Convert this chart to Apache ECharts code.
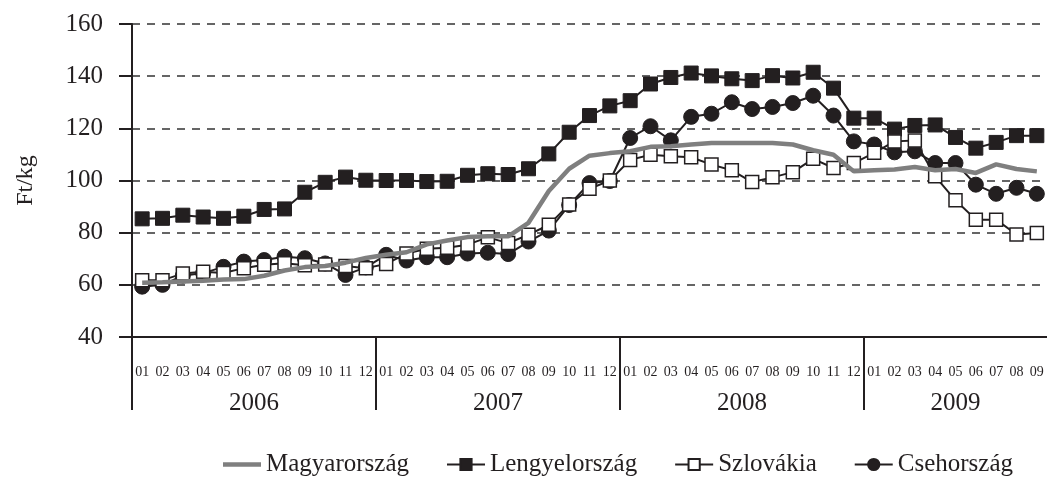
<!DOCTYPE html>
<html>
<head>
<meta charset="utf-8">
<script src="https://cdn.jsdelivr.net/npm/echarts@6/dist/echarts.min.js"></script>
<style>
  html, body { margin: 0; padding: 0; background: #fff; }
  #chart { width: 1047px; height: 477px; }
</style>
</head>
<body>
<div id="chart"></div>
<script>
// month tick labels, 2006-01 .. 2009-09
const months = [
  '01','02','03','04','05','06','07','08','09','10','11','12',
  '01','02','03','04','05','06','07','08','09','10','11','12',
  '01','02','03','04','05','06','07','08','09','10','11','12',
  '01','02','03','04','05','06','07','08','09'
];
const years = ['2006', '2007', '2008', '2009'];
const monthsPerYear = [12, 12, 12, 9];

const magyar = [
  60.8, 61.0, 61.3, 61.6, 62.0, 62.2, 63.5, 65.5, 66.8, 67.2, 68.5, 70.3,
  71.5, 72.5, 75.5, 77.0, 78.3, 78.6, 78.6, 83.8, 96.0, 104.5, 109.5, 110.5,
  111.2, 112.9, 113.1, 113.8, 114.4, 114.4, 114.4, 114.4, 113.8, 111.6, 109.9, 103.5,
  103.9, 104.2, 105.2, 103.9, 104.4, 102.9, 106.2, 104.4, 103.5
];
const lengyel = [
  85.3, 85.5, 86.7, 86.0, 85.5, 86.3, 88.9, 89.1, 95.5, 99.3, 101.3, 100.1,
  100.0, 100.0, 99.6, 99.7, 102.0, 102.6, 102.3, 104.5, 110.2, 118.5, 124.9, 128.6,
  130.6, 137.0, 139.5, 141.2, 140.1, 139.0, 138.3, 140.2, 139.3, 141.5, 135.4, 123.9,
  123.9, 119.7, 121.1, 121.3, 116.5, 112.4, 114.6, 117.2, 117.2
];
const szlovak = [
  61.8, 61.8, 64.3, 65.0, 64.5, 66.4, 67.7, 68.3, 67.5, 67.8, 67.2, 66.4,
  68.0, 72.0, 73.8, 74.2, 75.4, 78.2, 76.0, 79.2, 83.0, 90.8, 96.8, 100.0,
  107.9, 109.9, 109.3, 108.9, 106.1, 103.9, 99.4, 101.2, 103.2, 108.3, 104.8, 106.7,
  110.6, 115.0, 115.3, 101.6, 92.4, 85.0, 85.0, 79.3, 79.9
];
const cseh = [
  59.3, 60.0, 63.5, 64.5, 66.9, 68.9, 69.5, 70.8, 70.2, 68.2, 63.8, 66.7,
  71.5, 69.3, 70.6, 70.6, 72.0, 72.3, 71.8, 76.6, 80.8, 90.6, 99.0, 99.8,
  116.3, 120.8, 115.4, 124.4, 125.6, 130.0, 127.4, 128.2, 129.7, 132.5, 124.9, 115.0,
  113.8, 110.8, 111.2, 106.7, 106.7, 98.4, 94.9, 97.2, 94.9
];

// year separators and label centres on a 0..45 scale
const yearBounds = [0];
const yearCenters = [];
monthsPerYear.forEach((n, i) => {
  yearCenters.push(yearBounds[i] + n / 2);
  yearBounds.push(yearBounds[i] + n);
});
yearBounds.pop();

const ink = '#231f20';
const grey = '#7f7f7f';
const serif = '"Liberation Serif", "DejaVu Serif", serif';

const chart = echarts.init(document.getElementById('chart'));

const option = {
  animation: false,
  backgroundColor: '#fff',
  textStyle: { fontFamily: serif, color: ink },
  grid: { left: 132, right: -3, top: 24, bottom: 140 },
  legend: {
    data: [
      // plain thick bar for the marker-less series
      { name: 'Magyarország', icon: 'path://M0,0H38V4.5H0Z' },
      'Lengyelország', 'Szlovákia', 'Csehország'
    ],
    left: 218,
    top: 447,
    itemWidth: 38,
    itemHeight: 14,
    itemGap: 37,
    textStyle: { fontFamily: serif, fontSize: 25, color: ink }
  },
  xAxis: [
    {
      type: 'category',
      data: months,
      boundaryGap: true,
      axisLine: { lineStyle: { color: ink, width: 2 } },
      axisTick: { interval: 0, length: 14, lineStyle: { color: ink, width: 2 } },
      axisLabel: { interval: 0, margin: 28, fontFamily: serif, fontSize: 14, color: ink },
      splitLine: { show: false }
    },
    {
      type: 'value',
      position: 'bottom',
      min: 0,
      max: 45,
      axisLine: { show: false },
      axisTick: {
        show: true,
        customValues: yearBounds,
        length: 73,
        lineStyle: { color: ink, width: 2 }
      },
      axisLabel: {
        customValues: yearCenters,
        margin: 54,
        fontFamily: serif,
        fontSize: 25,
        color: ink,
        formatter: v => {
          const i = yearCenters.indexOf(v);
          return i >= 0 ? years[i] : '';
        }
      },
      splitLine: { show: false }
    }
  ],
  yAxis: {
    type: 'value',
    min: 40,
    max: 160,
    interval: 20,
    name: 'Ft/kg',
    nameLocation: 'middle',
    nameRotate: 90,
    nameGap: 94,
    nameTextStyle: { fontFamily: serif, fontSize: 24, color: ink },
    axisLine: { show: true, lineStyle: { color: ink, width: 2 } },
    axisTick: { show: true, length: 13, lineStyle: { color: ink, width: 2 } },
    axisLabel: { margin: 29, fontFamily: serif, fontSize: 25, color: ink },
    splitLine: { lineStyle: { color: '#333', width: 1.5, type: [8, 7] } }
  },
  series: [
    {
      name: 'Magyarország',
      type: 'line',
      data: magyar,
      z: 5,
      symbol: 'none',
      lineStyle: { color: grey, width: 4.5 },
      itemStyle: { color: grey }
    },
    {
      name: 'Lengyelország',
      type: 'line',
      data: lengyel,
      z: 3,
      symbol: 'rect',
      symbolSize: 14,
      lineStyle: { color: ink, width: 2 },
      itemStyle: { color: ink, borderColor: ink, borderWidth: 1 }
    },
    {
      name: 'Szlovákia',
      type: 'line',
      data: szlovak,
      z: 4,
      symbol: 'rect',
      symbolSize: 13,
      lineStyle: { color: ink, width: 2 },
      itemStyle: { color: '#fff', borderColor: ink, borderWidth: 1.5 }
    },
    {
      name: 'Csehország',
      type: 'line',
      data: cseh,
      z: 2,
      symbol: 'circle',
      symbolSize: 15,
      lineStyle: { color: ink, width: 2 },
      itemStyle: { color: ink, borderColor: ink, borderWidth: 1 }
    }
  ]
};

chart.setOption(option);
</script>
</body>
</html>
